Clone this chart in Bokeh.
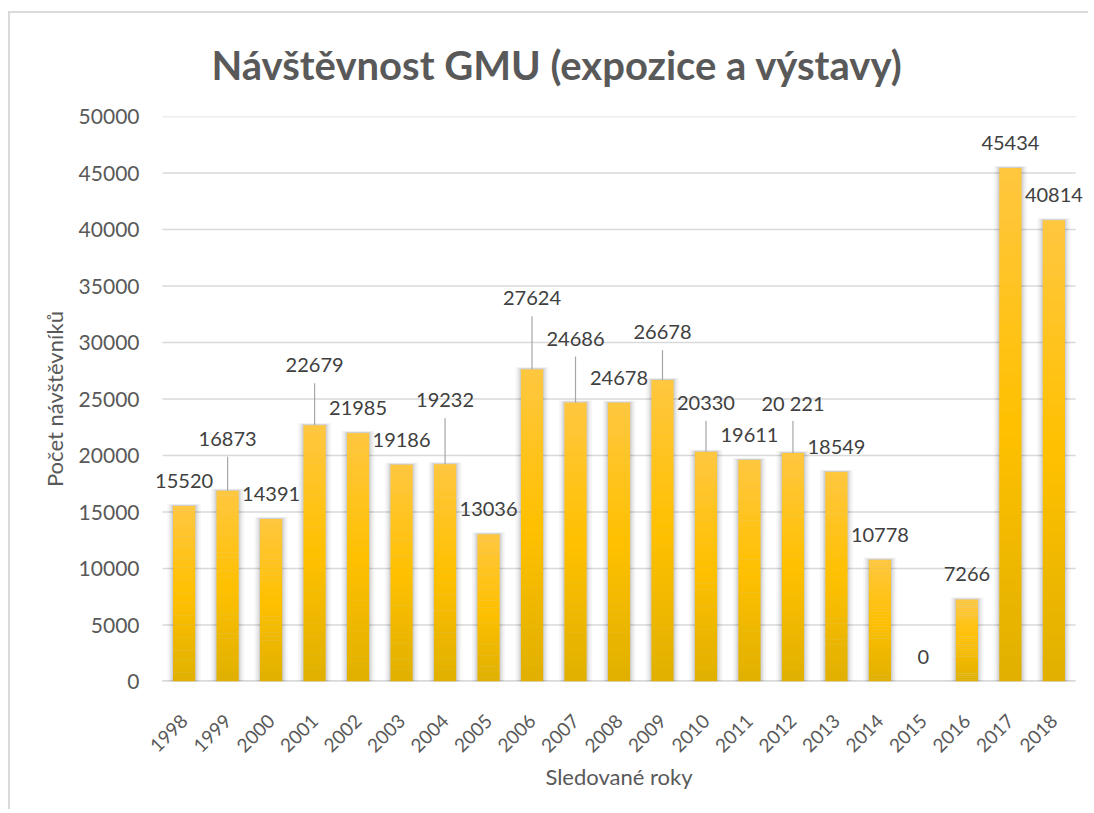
import math
from bokeh.plotting import figure
from bokeh.models import (FactorRange, Range1d, ColumnDataSource, FixedTicker,
                          NumeralTickFormatter, LabelSet)
from bokeh.embed import file_html
from bokeh.resources import INLINE
from bokeh.core.properties import value

# ---------------- data ----------------
years = ["1998", "1999", "2000", "2001", "2002", "2003", "2004", "2005", "2006", "2007",
         "2008", "2009", "2010", "2011", "2012", "2013", "2014", "2015", "2016", "2017", "2018"]
visitors = [15520, 16873, 14391, 22679, 21985, 19186, 19232, 13036, 27624, 24686,
            24678, 26678, 20330, 19611, 20221, 18549, 10778, 0, 7266, 45434, 40814]
value_labels = ["15520", "16873", "14391", "22679", "21985", "19186", "19232", "13036", "27624", "24686",
                "24678", "26678", "20330", "19611", "20 221", "18549", "10778", "0", "7266", "45434", "40814"]
y_ticks = [0, 5000, 10000, 15000, 20000, 25000, 30000, 35000, 40000, 45000, 50000]

title_text = "Návštěvnost GMU (expozice a výstavy)"
x_title = "Sledované roky"
y_title = "Počet návštěvníků"

# ---------------- layout / style ----------------
W, H = 1080, 798
MB_LEFT, MB_RIGHT, MB_TOP, MB_BOTTOM = 141, 4, 103, 130
Y_MAX = 50000
frame_h = H - MB_TOP - MB_BOTTOM
PX = Y_MAX / frame_h          # data units per screen pixel
X_PAD = 0.25                  # extra room (category units, each side) so edge labels are not clipped

LABEL_GAP = 25                # px from bar top to label centre (default)
# labels moved up by hand in the original (px from bar top to label centre)
moved_label_px = {"1999": 52, "2001": 60, "2004": 64, "2006": 71,
                  "2007": 64, "2009": 48, "2010": 49, "2012": 50}
LEADER_GAP = 18               # px from label centre to start of leader line

BAR_W = 0.51
TOP_C = (255, 199, 64)
MID_C = (255, 192, 0)
BOT_C = (224, 176, 0)
GRID_C = "#d9d9d9"

def lerp(a, b, t):
    return tuple(int(round(a[i] + (b[i] - a[i]) * t)) for i in range(3))

def grad_color(t):  # t: 0 at top, 1 at bottom
    if t < 0.5:
        c = lerp(TOP_C, MID_C, t / 0.5)
    else:
        c = lerp(MID_C, BOT_C, (t - 0.5) / 0.5)
    return "#%02x%02x%02x" % c

x_range = FactorRange(*years, range_padding=X_PAD, range_padding_units="absolute")
p = figure(x_range=x_range, y_range=Range1d(0, Y_MAX),
           width=W, height=H, output_backend="svg", toolbar_location=None,
           min_border_left=MB_LEFT, min_border_right=MB_RIGHT,
           min_border_top=MB_TOP, min_border_bottom=MB_BOTTOM)
p.styles = {"margin-top": "11px", "margin-left": "8px",
            "border-left": "2px solid #d9d9d9", "border-top": "2px solid #d9d9d9"}
p.outline_line_color = None
p.background_fill_color = "white"
p.border_fill_color = "white"

# horizontal gridlines across the category area only
n_cat = len(years)
p.segment(x0=[0] * len(y_ticks), x1=[n_cat] * len(y_ticks), y0=y_ticks, y1=y_ticks,
          line_color=GRID_C, line_width=1.3)
# category axis line
p.segment(x0=[0], x1=[n_cat], y0=[0], y1=[0], line_color=GRID_C, line_width=3)

# soft shadow around bars
for extra, alpha, ext_px in [(0.26, 0.03, 2), (0.18, 0.04, 2), (0.11, 0.055, 1), (0.05, 0.075, 1)]:
    p.vbar(x=years, top=[v + ext_px * PX if v > 0 else 0 for v in visitors], bottom=0,
           width=BAR_W + extra, fill_color="#000000", fill_alpha=alpha, line_color=None)

# gradient bars, drawn as horizontal slices of each bar
N = 40
gx, gb, gt, gc = [], [], [], []
for yr, v in zip(years, visitors):
    for j in range(N):
        gx.append(yr)
        gb.append(v * j / N)
        gt.append(v * (j + 1) / N + (v * 0.002 if j < N - 1 else 0))
        gc.append(grad_color(1 - (j + 0.5) / N))
p.vbar(x=gx, bottom=gb, top=gt, width=BAR_W, fill_color=gc, line_color=None)

# data labels + leader lines
lab_y = []
lx0, ly0, ly1 = [], [], []
for yr, v in zip(years, visitors):
    if yr in moved_label_px:
        lp = moved_label_px[yr]
        lx0.append(yr)
        ly0.append(v)
        ly1.append(v + (lp - LEADER_GAP) * PX)
    else:
        lp = LABEL_GAP
    lab_y.append(v + lp * PX)

p.segment(x0=lx0, y0=ly0, x1=lx0, y1=ly1, line_color="#a6a6a6", line_width=1.2)
src = ColumnDataSource(dict(x=years, y=lab_y, t=value_labels))
labels = LabelSet(x="x", y="y", text="t", source=src, text_align="center",
                  text_baseline="middle", text_font=value("Lato"),
                  text_font_size=value("20px"), text_color=value("#404040"))
p.add_layout(labels)

# grid (drawn manually above)
p.xgrid.grid_line_color = None
p.ygrid.grid_line_color = None

# y axis
p.yaxis.ticker = FixedTicker(ticks=y_ticks)
p.yaxis.formatter = NumeralTickFormatter(format="0")
p.yaxis.axis_line_color = None
p.yaxis.major_tick_line_color = None
p.yaxis.minor_tick_line_color = None
p.yaxis.major_label_standoff = 6
p.yaxis.major_label_text_font = "Lato"
p.yaxis.major_label_text_font_size = "21px"
p.yaxis.major_label_text_color = "#595959"
p.yaxis.axis_label = y_title
p.yaxis.axis_label_text_font = "Lato"
p.yaxis.axis_label_text_font_style = "normal"
p.yaxis.axis_label_text_font_size = "22px"
p.yaxis.axis_label_text_color = "#595959"
p.yaxis.axis_label_standoff = 8

# x axis
p.xaxis.axis_line_color = None
p.xaxis.major_tick_line_color = None
p.xaxis.minor_tick_line_color = None
p.xaxis.major_label_orientation = math.pi / 4
p.xaxis.major_label_standoff = 30
p.xaxis.major_label_text_font = "Lato"
p.xaxis.major_label_text_font_size = "19px"
p.xaxis.major_label_text_color = "#595959"
p.xaxis.axis_label = x_title
p.xaxis.axis_label_text_font = "Lato"
p.xaxis.axis_label_text_font_style = "normal"
p.xaxis.axis_label_text_font_size = "22px"
p.xaxis.axis_label_text_color = "#595959"
p.xaxis.axis_label_standoff = 1

# title
p.title.text = title_text
p.title.align = "left"
p.title.offset = 60
p.title.vertical_align = "top"
p.title.text_font = "Lato"
p.title.text_font_style = "bold"
p.title.text_font_size = "40px"
p.title.text_color = "#595959"
p.title.standoff = 52

open("out.html", "w").write(file_html(p, INLINE))
